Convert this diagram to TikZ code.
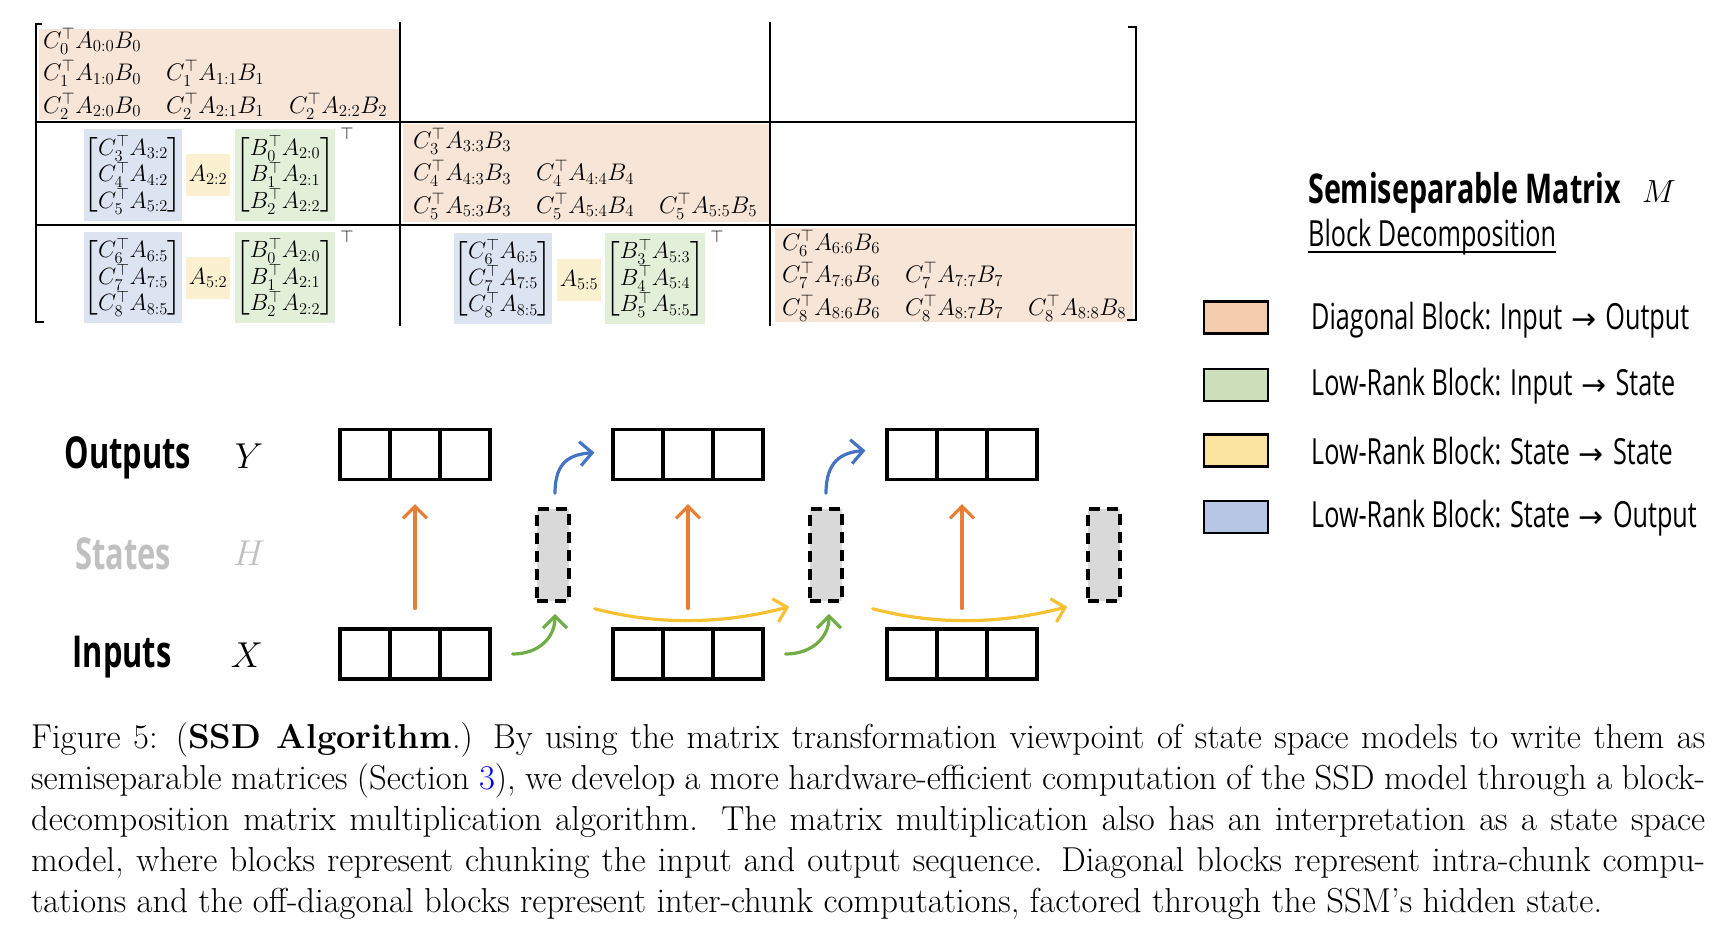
\RequirePackage{fix-cm}
\documentclass[tikz,border=0pt]{standalone}
\usepackage{fontspec}
\usepackage{amsmath}
\usetikzlibrary{arrows.meta,calc}
\newfontfamily\condfont[FakeStretch=0.7]{Open Sans}
\newfontfamily\arrowfont{DejaVu Sans}
\definecolor{diagfill}{RGB}{247,229,216}
\definecolor{bluefill}{RGB}{220,227,241}
\definecolor{yellowfill}{RGB}{251,241,209}
\definecolor{greenfill}{RGB}{226,239,217}
\definecolor{legpeach}{RGB}{244,204,174}
\definecolor{leggreen}{RGB}{204,223,186}
\definecolor{legyellow}{RGB}{251,227,160}
\definecolor{legblue}{RGB}{182,198,228}
\definecolor{arrorange}{RGB}{232,126,52}
\definecolor{arrblue}{RGB}{68,114,196}
\definecolor{arryellow}{RGB}{247,193,50}
\definecolor{arrgreen}{RGB}{112,173,71}
\definecolor{stategray}{RGB}{217,217,217}
\definecolor{labelgray}{RGB}{192,192,192}
\definecolor{linkblue}{RGB}{0,0,238}
\newsavebox\capbox
\newlength\capw
\newcommand\cv[3]{$\def\arraystretch{0.8}\left[\begin{array}{@{}l@{}}#1\\#2\\#3\end{array}\right]$}
\newcommand\legarrow{\hspace{9pt}{\arrowfont\fontsize{30}{32}\selectfont →}\hspace{9pt}}
\begin{document}
\sbox\capbox{\fontsize{20}{24}\selectfont tations and the off-diagonal blocks represent inter-chunk computations, factored through the SSM’s hidden state.}%
\setlength\capw{\wd\capbox}%
\pgfmathsetmacro\capsize{1571/\capw*20}%
\begin{tikzpicture}[x=1pt,y=-1pt,
  entry/.style={anchor=base west, inner sep=0pt, font=\fontsize{24}{27}\selectfont},
  diagblk/.style={fill=diagfill, inner sep=0pt},
  lrblk/.style={inner sep=0pt, font=\fontsize{23.5}{27}\selectfont},
  tsup/.style={inner sep=0pt, font=\fontsize{17}{19}\selectfont},
  mline/.style={line width=1.6pt},
  swatch/.style={draw, line width=2.2pt, minimum width=64pt, minimum height=32pt, inner sep=0pt},
  legtext/.style={anchor=west, inner sep=0pt, font=\condfont\fontsize{36}{40}\selectfont},
  rowlab/.style={inner sep=0pt, font=\condfont\bfseries\fontsize{44}{50}\selectfont},
  mathlab/.style={inner sep=0pt, font=\fontsize{36}{40}\selectfont},
  cell/.style={draw, line width=3.2pt, minimum width=50pt, minimum height=50pt, inner sep=0pt},
  state/.style={draw, fill=stategray, line width=3.5pt, dash pattern=on 11pt off 7pt, minimum width=32pt, minimum height=92pt, inner sep=0pt},
  tip/.style={-{Straight Barb[length=12pt,width=24pt]}, line width=3.2pt, line cap=round},
  capline/.style={anchor=base west, inner sep=0pt, font=\fontsize{\capsize}{41}\selectfont}
]
\useasboundingbox (0,0) rectangle (1730,930);
\fill[white] (0,0) rectangle (1730,930);

% ---- diagonal blocks ----
\node[diagblk, minimum width=361pt, minimum height=91pt] (d1) at (219.5,74.5) {};
\node[diagblk, minimum width=367pt, minimum height=98pt] (d2) at (586.5,173) {};
\node[diagblk, minimum width=358pt, minimum height=94pt] (d3) at (954,275) {};

\foreach \bi/\bx/\by in {0/43/48, 3/413/148, 6/782/250} {
  \foreach \r in {0,1,2} {
    \foreach \c in {0,...,\r} {
      \pgfmathtruncatemacro\ii{\bi+\r}
      \pgfmathtruncatemacro\jj{\bi+\c}
      \node[entry] (e\ii\jj) at (\bx+123*\c, \by+32.5*\r) {$C_{\ii}^\top A_{\ii:\jj}B_{\jj}$};
    }
  }
}

% ---- low-rank blocks ----
\node[lrblk, fill=bluefill, minimum width=98pt, minimum height=92pt] (u21) at (133,175) {\cv{C_3^\top A_{3:2}}{C_4^\top A_{4:2}}{C_5^\top A_{5:2}}};
\node[lrblk, fill=yellowfill, minimum width=44pt, minimum height=42pt] (a21) at (208,175) {$A_{2:2}$};
\node[lrblk, fill=greenfill, minimum width=98pt, minimum height=92pt] (v21) at (285,175) {\cv{B_0^\top A_{2:0}}{B_1^\top A_{2:1}}{B_2^\top A_{2:2}}};
\node[tsup] (t21) at (347,134) {$\top$};

\node[lrblk, fill=bluefill, minimum width=98pt, minimum height=91pt] (u31) at (133,277.5) {\cv{C_6^\top A_{6:5}}{C_7^\top A_{7:5}}{C_8^\top A_{8:5}}};
\node[lrblk, fill=yellowfill, minimum width=44pt, minimum height=42pt] (a31) at (208,278) {$A_{5:2}$};
\node[lrblk, fill=greenfill, minimum width=98pt, minimum height=91pt] (v31) at (285,277.5) {\cv{B_0^\top A_{2:0}}{B_1^\top A_{2:1}}{B_2^\top A_{2:2}}};
\node[tsup] (t31) at (347,237) {$\top$};

\node[lrblk, fill=bluefill, minimum width=98pt, minimum height=91pt] (u32) at (503,278.5) {\cv{C_6^\top A_{6:5}}{C_7^\top A_{7:5}}{C_8^\top A_{8:5}}};
\node[lrblk, fill=yellowfill, minimum width=44pt, minimum height=42pt] (a32) at (579,280) {$A_{5:5}$};
\node[lrblk, fill=greenfill, minimum width=98pt, minimum height=91pt] (v32) at (655,278.5) {\cv{B_3^\top A_{5:3}}{B_4^\top A_{5:4}}{B_5^\top A_{5:5}}};
\node[tsup] (t32) at (717,237) {$\top$};

% ---- matrix lines ----
\draw[mline] (42,24) -- (36,24) -- (36,322) -- (44,322);
\draw[mline] (1128,27) -- (1136,27) -- (1136,320) -- (1127,320);
\draw[mline] (400,22) -- (400,326);
\draw[mline] (770,22) -- (770,326);
\draw[mline] (36,122) -- (1136,122);
\draw[mline] (36,225) -- (1136,225);

% ---- legend ----
\node[anchor=west, inner sep=0pt, font=\condfont\bfseries\fontsize{41}{46}\selectfont] (title) at (1308,193) {Semiseparable Matrix};
\node[inner sep=0pt, font=\fontsize{32}{38}\selectfont] (Msym) at (1659,192) {$M$};
\node[anchor=west, inner sep=0pt, font=\condfont\fontsize{36}{42}\selectfont] (bd) at (1308,237) {Block Decomposition};
\draw[line width=1.8pt] ($(bd.base west)+(0,6)$) -- ($(bd.base east)+(0,6)$);

\node[swatch, fill=legpeach] (s1) at (1236,317.5) {};
\node[swatch, fill=leggreen] (s2) at (1236,385) {};
\node[swatch, fill=legyellow] (s3) at (1236,450.5) {};
\node[swatch, fill=legblue] (s4) at (1236,517) {};
\node[legtext] (l1) at (1311,320) {Diagonal Block: Input\legarrow Output};
\node[legtext] (l2) at (1311,386) {Low-Rank Block: Input\legarrow State};
\node[legtext] (l3) at (1311,451) {Low-Rank Block: State\legarrow State};
\node[legtext] (l4) at (1311,518) {Low-Rank Block: State\legarrow Output};

% ---- bottom labels ----
\node[rowlab] (lo) at (128,458) {Outputs};
\node[rowlab, text=labelgray] (ls) at (123,554) {States};
\node[rowlab] (li) at (122,657) {Inputs};
\node[mathlab] (my) at (249,456) {$Y$};
\node[mathlab, text=labelgray] (mh) at (249,553) {$H$};
\node[mathlab] (mx) at (247,655) {$X$};

% ---- cells ----
\foreach \n/\cx in {A/415, B/688, C/962} {
  \node[cell] (o\n1) at (\cx-50,454.5) {};
  \node[cell] (o\n2) at (\cx,454.5) {};
  \node[cell] (o\n3) at (\cx+50,454.5) {};
  \node[cell] (i\n1) at (\cx-50,654) {};
  \node[cell] (i\n2) at (\cx,654) {};
  \node[cell] (i\n3) at (\cx+50,654) {};
  \draw[tip, arrorange, shorten <=19pt, shorten >=23pt] (i\n2.north) -- (o\n2.south);
}
\node[state] (S1) at (553,555) {};
\node[state] (S2) at (826,555) {};
\node[state] (S3) at (1104,555) {};

% ---- curved arrows ----
\draw[tip, arrblue] ($(S1.north)+(2,-14)$) .. controls +(0,-32) and +(-24,2) .. ($(oB1.west)+(-17,-2)$);
\draw[tip, arrblue] ($(S2.north)+(0,-14)$) .. controls +(0,-32) and +(-24,2) .. ($(oC1.west)+(-20,-4)$);
\draw[tip, arrgreen] ($(iA3.east)+(21,0)$) .. controls +(26,0) and +(0,24) .. ($(S1.south)+(2,11)$);
\draw[tip, arrgreen] ($(iB3.east)+(21,0)$) .. controls +(26,0) and +(0,24) .. ($(S2.south)+(3,11)$);
\draw[tip, arryellow] ($(S1.south east)+(24,6)$) .. controls +(65,17) and +(-65,17) .. ($(S2.south west)+(-19,4)$);
\draw[tip, arryellow] ($(S2.south east)+(29,6)$) .. controls +(65,17) and +(-65,17) .. ($(S3.south west)+(-19,4)$);

% ---- caption ----
\node[capline] (c1) at (31,748) {\makebox[1674pt][s]{Figure 5: (\textbf{SSD Algorithm}.) By using the matrix transformation viewpoint of state space models to write them as}};
\node[capline] (c2) at (31,789) {\makebox[1674pt][s]{semiseparable matrices (Section \textcolor{linkblue}{3}), we develop a more hardware-efficient computation of the SSD model through a block-}};
\node[capline] (c3) at (31,830) {\makebox[1674pt][s]{decomposition matrix multiplication algorithm. The matrix multiplication also has an interpretation as a state space}};
\node[capline] (c4) at (31,871) {\makebox[1674pt][s]{model, where blocks represent chunking the input and output sequence. Diagonal blocks represent intra-chunk compu-}};
\node[capline] (c5) at (31,912) {tations and the off-diagonal blocks represent inter-chunk computations, factored through the SSM’s hidden state.};
\end{tikzpicture}
\end{document}
